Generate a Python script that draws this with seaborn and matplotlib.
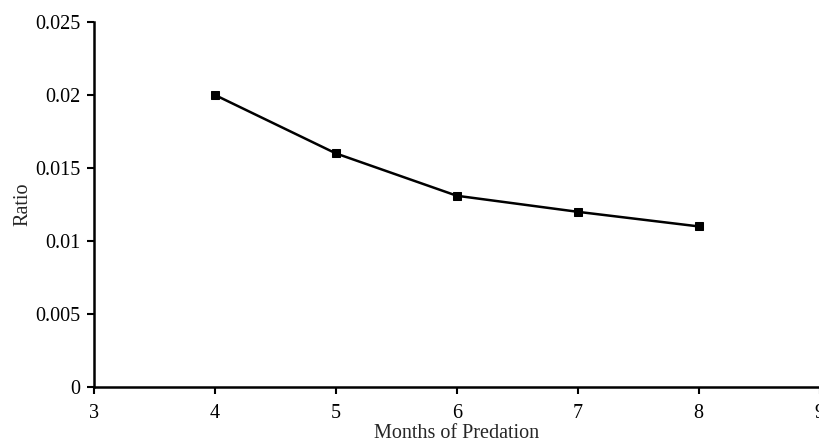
import numpy as np
import pandas as pd
import matplotlib
matplotlib.use("Agg")
import matplotlib.pyplot as plt
import seaborn as sns

# data
months = [4, 5, 6, 7, 8]
ratio = [0.0200, 0.0160, 0.0131, 0.0120, 0.0110]
x_ticks = [3, 4, 5, 6, 7, 8, 9]
y_ticks = [0, 0.005, 0.01, 0.015, 0.02, 0.025]
y_labels = ["0", "0.005", "0.01", "0.015", "0.02", "0.025"]

sns.set_style("ticks")
plt.rcParams['font.family'] = ['Liberation Serif', 'DejaVu Serif']

df = pd.DataFrame({"Months of Predation": months, "Ratio": ratio})

fig = plt.figure(figsize=(8.2, 4.48), dpi=100)
ax = fig.add_axes([0.1146, 0.136, 0.885, 0.815])

sns.lineplot(data=df, x="Months of Predation", y="Ratio", ax=ax,
             color="black", linewidth=1.8, marker="s", markersize=6,
             markeredgecolor="black", markerfacecolor="black")

ax.set_xlim(3, 9)
ax.set_ylim(0, 0.025)
ax.set_xticks(x_ticks)
ax.set_xticklabels([str(t) for t in x_ticks])
ax.set_yticks(y_ticks)
ax.set_yticklabels(y_labels)

for s in ["top", "right"]:
    ax.spines[s].set_visible(False)
for s in ["left", "bottom"]:
    ax.spines[s].set_linewidth(1.8)
    ax.spines[s].set_color("black")

ax.tick_params(axis="both", labelsize=14.5, colors="black", width=1.5, length=5, direction="out")
ax.tick_params(axis="x", pad=7)
ax.tick_params(axis="y", pad=5)
ax.set_xlabel("Months of Predation", fontsize=14.5, labelpad=1)
ax.set_ylabel("Ratio", fontsize=14.5, labelpad=2)

fig.savefig("out.png", dpi=100)
